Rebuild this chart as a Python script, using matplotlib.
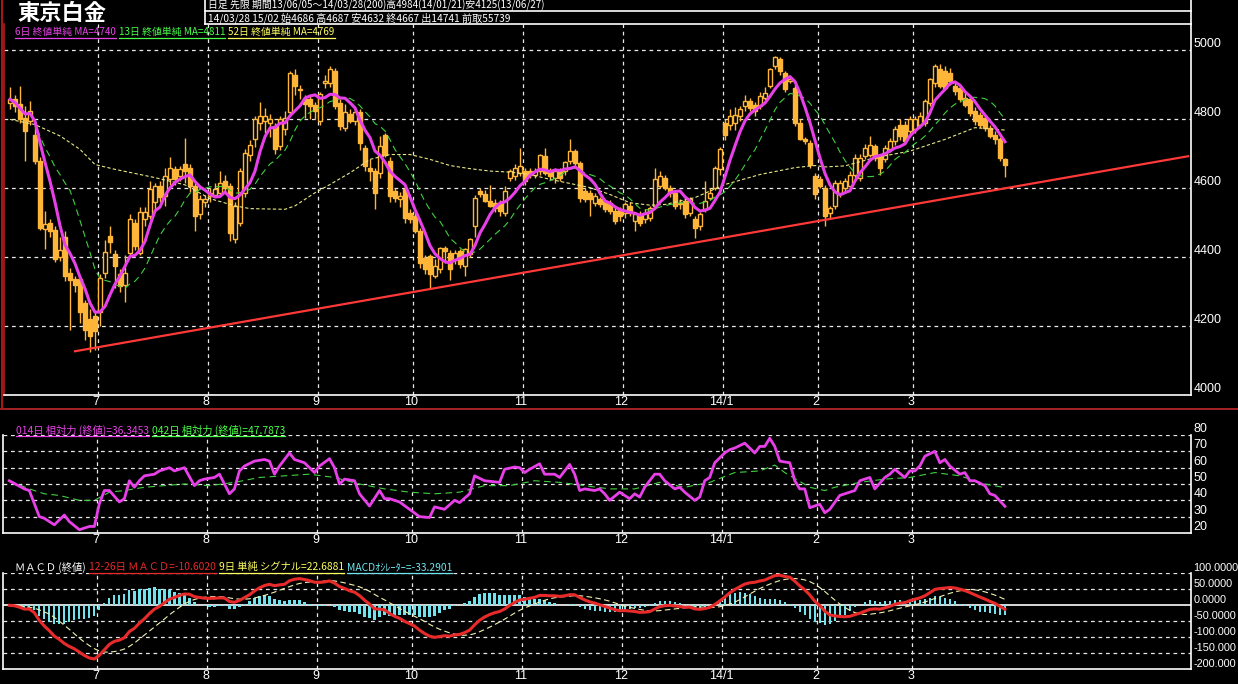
import numpy as np
import pandas as pd
import matplotlib
matplotlib.use("Agg")
import matplotlib.pyplot as plt
from matplotlib.lines import Line2D

plt.rcParams['font.family'] = ['Noto Sans CJK JP', 'DejaVu Sans']

# ---- data ----
opens = [4848, 4858, 4845, 4805, 4795, 4756, 4679, 4481, 4500, 4480,
         4400, 4460, 4355, 4336, 4336, 4268, 4220, 4230, 4240, 4355,
         4462, 4408, 4350, 4320, 4413, 4500, 4413, 4510, 4520, 4560,
         4607, 4578, 4626, 4655, 4636, 4670, 4660, 4607, 4525, 4560,
         4578, 4580, 4587, 4620, 4607, 4452, 4500, 4587, 4698, 4742,
         4790, 4795, 4790, 4780, 4723, 4771, 4820, 4930, 4885, 4860,
         4858, 4843, 4795, 4905, 4906, 4940, 4848, 4775, 4815, 4795,
         4820, 4718, 4660, 4650, 4645, 4756, 4680, 4592, 4568, 4597,
         4529, 4520, 4476, 4399, 4403, 4345, 4365, 4428, 4413, 4393,
         4418, 4375, 4408, 4490, 4592, 4582, 4563, 4558, 4553, 4529,
         4631, 4636, 4645, 4650, 4650, 4640, 4650, 4694, 4650, 4631,
         4650, 4650, 4680, 4708, 4674, 4592, 4587, 4558, 4568, 4563,
         4558, 4534, 4539, 4529, 4549, 4505, 4520, 4510, 4515, 4549,
         4607, 4631, 4600, 4587, 4558, 4563, 4529, 4510, 4491, 4539,
         4573, 4602, 4655, 4790, 4785, 4790, 4810, 4839, 4853, 4843,
         4839, 4863, 4897, 4955, 4975, 4935, 4911, 4892, 4790, 4742,
         4732, 4636, 4626, 4602, 4529, 4549, 4587, 4602, 4607, 4640,
         4630, 4694, 4698, 4723, 4694, 4684, 4713, 4737, 4785, 4785,
         4766, 4771, 4785, 4790, 4848, 4906, 4945, 4940, 4935, 4897,
         4892, 4863, 4858, 4824, 4814, 4805, 4776, 4756, 4742, 4686]
highs = [4895, 4870, 4896, 4840, 4853, 4790, 4690, 4535, 4510, 4490,
         4460, 4475, 4370, 4345, 4345, 4275, 4250, 4240, 4350, 4450,
         4490, 4420, 4365, 4405, 4525, 4510, 4545, 4545, 4620, 4616,
         4620, 4660, 4690, 4665, 4665, 4747, 4670, 4615, 4580, 4580,
         4600, 4615, 4650, 4640, 4615, 4560, 4660, 4715, 4740, 4810,
         4850, 4833, 4815, 4790, 4810, 4825, 4940, 4945, 4900, 4870,
         4870, 4850, 4880, 4930, 4955, 4948, 4860, 4845, 4830, 4830,
         4830, 4725, 4685, 4660, 4752, 4760, 4690, 4600, 4590, 4605,
         4540, 4530, 4485, 4405, 4410, 4395, 4430, 4433, 4420, 4420,
         4425, 4428, 4455, 4580, 4600, 4595, 4611, 4570, 4565, 4606,
         4655, 4670, 4718, 4660, 4660, 4660, 4700, 4718, 4660, 4660,
         4660, 4680, 4742, 4715, 4680, 4600, 4595, 4585, 4575, 4570,
         4565, 4545, 4545, 4560, 4560, 4530, 4535, 4540, 4550, 4660,
         4650, 4640, 4610, 4595, 4570, 4575, 4575, 4520, 4530, 4621,
         4600, 4665, 4720, 4800, 4830, 4835, 4840, 4870, 4862, 4850,
         4880, 4895, 4950, 4984, 4980, 4940, 4925, 4900, 4800, 4750,
         4740, 4645, 4635, 4610, 4550, 4625, 4625, 4630, 4650, 4700,
         4700, 4730, 4752, 4730, 4700, 4725, 4745, 4780, 4800, 4795,
         4810, 4810, 4820, 4860, 4920, 4960, 4960, 4955, 4950, 4905,
         4900, 4880, 4865, 4835, 4820, 4812, 4785, 4765, 4750, 4687]
lows = [4830, 4820, 4790, 4680, 4785, 4670, 4480, 4425, 4460, 4385,
        4390, 4330, 4190, 4300, 4210, 4160, 4125, 4130, 4200, 4340,
        4413, 4310, 4300, 4270, 4400, 4420, 4405, 4490, 4510, 4540,
        4560, 4550, 4610, 4610, 4620, 4615, 4590, 4475, 4510, 4545,
        4560, 4575, 4580, 4590, 4447, 4440, 4490, 4575, 4680, 4720,
        4770, 4760, 4750, 4700, 4710, 4755, 4810, 4870, 4860, 4805,
        4800, 4800, 4785, 4890, 4895, 4830, 4770, 4765, 4790, 4785,
        4710, 4650, 4620, 4540, 4630, 4690, 4560, 4560, 4545, 4500,
        4500, 4470, 4370, 4350, 4307, 4340, 4355, 4384, 4335, 4380,
        4370, 4345, 4400, 4460, 4575, 4560, 4545, 4530, 4520, 4520,
        4620, 4625, 4635, 4610, 4630, 4630, 4640, 4640, 4625, 4615,
        4620, 4640, 4670, 4665, 4560, 4560, 4520, 4550, 4545, 4530,
        4525, 4495, 4505, 4515, 4520, 4475, 4490, 4500, 4505, 4540,
        4600, 4595, 4575, 4540, 4540, 4515, 4520, 4457, 4480, 4530,
        4565, 4595, 4640, 4740, 4770, 4770, 4795, 4825, 4825, 4810,
        4830, 4855, 4890, 4945, 4930, 4880, 4905, 4780, 4740, 4730,
        4660, 4570, 4600, 4490, 4515, 4540, 4575, 4590, 4595, 4630,
        4620, 4685, 4690, 4680, 4640, 4675, 4705, 4725, 4740, 4730,
        4750, 4760, 4775, 4780, 4840, 4895, 4890, 4885, 4900, 4870,
        4850, 4835, 4810, 4785, 4775, 4765, 4745, 4730, 4680, 4632]
closes = [4858, 4840, 4800, 4765, 4824, 4680, 4486, 4495, 4475, 4395,
          4420, 4345, 4335, 4320, 4240, 4190, 4172, 4185, 4340, 4415,
          4443, 4375, 4316, 4355, 4510, 4433, 4530, 4530, 4597, 4607,
          4575, 4636, 4660, 4626, 4655, 4650, 4607, 4520, 4568, 4568,
          4587, 4597, 4616, 4600, 4471, 4548, 4650, 4703, 4727, 4800,
          4810, 4810, 4800, 4713, 4800, 4805, 4935, 4897, 4887, 4845,
          4839, 4824, 4874, 4910, 4945, 4840, 4780, 4820, 4795, 4820,
          4732, 4665, 4650, 4587, 4722, 4698, 4577, 4573, 4578, 4515,
          4510, 4476, 4384, 4365, 4350, 4375, 4428, 4418, 4365, 4413,
          4380, 4423, 4452, 4572, 4582, 4563, 4549, 4544, 4534, 4592,
          4650, 4660, 4665, 4621, 4640, 4650, 4698, 4645, 4636, 4650,
          4631, 4675, 4708, 4674, 4573, 4568, 4568, 4578, 4553, 4539,
          4534, 4505, 4520, 4553, 4529, 4524, 4500, 4529, 4544, 4626,
          4636, 4602, 4587, 4549, 4553, 4524, 4568, 4486, 4524, 4563,
          4587, 4660, 4713, 4756, 4810, 4814, 4829, 4853, 4834, 4824,
          4868, 4877, 4945, 4980, 4940, 4887, 4916, 4790, 4742, 4737,
          4669, 4582, 4607, 4520, 4544, 4616, 4616, 4621, 4640, 4689,
          4689, 4718, 4727, 4689, 4660, 4718, 4737, 4771, 4752, 4737,
          4800, 4800, 4810, 4853, 4916, 4955, 4897, 4892, 4911, 4882,
          4858, 4843, 4819, 4795, 4785, 4776, 4752, 4742, 4689, 4667]

ma52_bar = [0, 5, 10, 14, 17, 21, 26, 29, 35, 40, 45, 48, 55, 57, 61, 64, 68, 72,
            76, 80, 84, 88, 92, 96, 100, 104, 108, 112, 116, 120, 124, 128, 131,
            137, 143, 150, 157, 161, 163, 167, 173, 180, 187, 193, 199]
ma52_val = [4800, 4785, 4752, 4713, 4669, 4655, 4640, 4631, 4610, 4570, 4549, 4541,
            4539, 4549, 4587, 4611, 4645, 4684, 4698, 4698, 4684, 4666, 4657, 4650,
            4647, 4640, 4626, 4614, 4602, 4582, 4558, 4551, 4553, 4573, 4611, 4640,
            4660, 4666, 4662, 4665, 4689, 4708, 4742, 4776, 4769]

trend_bar = [13, 235.6]
trend_val = [4127, 4693]

rsi14_bar = [0, 3, 4, 6, 7, 9, 11, 12, 14, 16, 17, 18, 19, 20, 22, 23, 24, 25, 26, 27,
             29, 30, 32, 33, 35, 37, 38, 39, 41, 42, 43, 44, 45, 46, 47, 49, 51, 52, 53,
             54, 56, 57, 59, 61, 62, 64, 65, 66, 67, 69, 70, 72, 74, 75, 76, 78, 80, 82,
             84, 85, 87, 89, 90, 92, 93, 95, 98, 99, 101, 102, 103, 104, 106, 107, 109,
             110, 112, 113, 114, 115, 117, 118, 119, 120, 122, 124, 125, 126, 127, 129,
             130, 131, 133, 134, 135, 137, 138, 139, 140, 141, 143, 144, 145, 147, 149,
             150, 151, 152, 153, 154, 156, 157, 158, 159, 160, 162, 163, 164, 166, 167,
             169, 170, 172, 173, 175, 176, 177, 179, 180, 181, 182, 183, 185, 186, 187,
             188, 190, 191, 192, 193, 195, 196, 197, 199]
rsi14_val = [52, 47, 46, 30, 29, 25, 31, 27, 22, 24, 24, 38, 46, 46, 39, 41, 52, 48, 52, 55,
             56, 58, 60, 58, 60, 49, 52, 53, 54, 56, 50, 44, 47, 58, 61, 64, 65, 64, 56,
             61, 69, 65, 63, 57, 61, 65.5, 60, 50, 53, 52, 44, 36.5, 46, 41, 41, 39, 34.5,
             30, 29.5, 36, 34.5, 40, 38.6, 44, 55, 52, 51, 59, 60.4, 60, 57, 59, 62.4, 56,
             56, 54, 62, 56, 46, 47, 46, 47, 44, 40, 45, 41, 44, 42, 48, 56, 56, 52, 47,
             48, 45, 40, 42, 52, 54, 63, 69, 71, 72, 75, 69, 73, 73, 78, 73, 64, 63, 52,
             47, 47, 35.5, 37.6, 32.4, 34.5, 43, 44, 46, 52, 54, 47, 54, 56, 59, 54, 58,
             58, 61, 67, 70, 63, 65, 61, 56, 57, 52, 52, 49, 44, 43, 36.35]
rsi42_bar = [0, 4, 7, 10, 14, 17, 20, 23, 27, 35, 40, 45, 50, 55, 60, 65, 70, 75, 80, 85,
             90, 95, 100, 105, 110, 115, 120, 125, 130, 135, 140, 145, 150, 153, 155,
             160, 163, 165, 170, 175, 180, 185, 190, 195, 199]
rsi42_val = [52, 47, 44, 43, 40, 40, 45, 46, 48, 50, 49, 51, 54, 55, 56, 54, 50, 47, 45,
             44, 45, 49, 49, 52, 51, 49, 47, 47, 51, 48, 51, 57, 58, 61.6, 57, 48, 46, 48,
             51, 53, 54, 57, 55, 50, 47.79]

month_bar = [18, 40, 62, 81, 103, 123, 143, 162, 181]
month_lbl = ["7", "8", "9", "10", "11", "12", "14/1", "2", "3"]

price_ticks = [4000, 4200, 4400, 4600, 4800, 5000]
rsi_ticks = [20, 30, 40, 50, 60, 70, 80]
macd_ticks = [100, 50, 0, -50, -100, -150, -200]
macd_lbls = ["100.0000", "50.0000", "0.0000", "-50.0000", "-100.000", "-150.000", "-200.000"]

# ---- derived indicators ----
cl = pd.Series(closes, dtype=float)
ma6 = cl.rolling(6, min_periods=1).mean()
ma13 = cl.rolling(13, min_periods=1).mean()
macd = cl.ewm(span=12, adjust=False).mean() - cl.ewm(span=26, adjust=False).mean()
signal = macd.rolling(9, min_periods=1).mean()
osc = macd - signal

# ---- style ----
W, H = 1238, 684
ORANGE = "#FFB638"
MAG = "#E840E8"
GRN = "#40D040"
YEL = "#E8E888"
RED = "#E82A2A"
CYAN = "#70E4EE"
GRID = dict(color="#E8E8E8", lw=0.9, ls=(0, (3, 3)))
NUM_FONT = ['Liberation Sans Narrow', 'Liberation Sans', 'DejaVu Sans']
XLIM = (-1.2, 236.2)

fig = plt.figure(figsize=(W / 100, H / 100), dpi=100, facecolor="black")


def px_axes(x0, y0, x1, y1):
    ax = fig.add_axes([x0 / W, 1 - y1 / H, (x1 - x0) / W, (y1 - y0) / H])
    ax.set_facecolor("black")
    ax.set_xticks([]); ax.set_yticks([])
    ax.set_xlim(*XLIM)
    for s in ax.spines.values():
        s.set_color("white"); s.set_linewidth(1.2)
    ax.spines["top"].set_visible(False)
    return ax


def fig_line(x0, y0, x1, y1, color="white", lw=1.2):
    fig.add_artist(Line2D([x0 / W, x1 / W], [1 - y0 / H, 1 - y1 / H], color=color, lw=lw))


def right_labels(ax, vals, lbls, size=9):
    for v, s in zip(vals, lbls):
        ax.text(1.002, v, s, transform=ax.get_yaxis_transform(), color="white",
                fontsize=size, family=NUM_FONT, va="bottom", ha="left", clip_on=False)


def month_labels(ax, y):
    for b, s in zip(month_bar, month_lbl):
        fig.text((10 + 5 * b - 4) / W, 1 - y / H, s, color="white", fontsize=9,
                 family=NUM_FONT, ha="center", va="center")


def vgrid(ax):
    for b in month_bar:
        ax.axvline(b - 0.5, zorder=1, **GRID)


# ---- main price panel ----
ax = px_axes(4, 24.3, 1191, 395)
ax.set_ylim(4000, 5076)
ax.spines["left"].set_color("#B02020")
for v in price_ticks[1:]:
    ax.axhline(v, zorder=1, **GRID)
vgrid(ax)

x = np.arange(len(closes))
o = np.array(opens, float); c = np.array(closes, float)
h = np.array(highs, float); l = np.array(lows, float)
ax.vlines(x, l, h, color=ORANGE, lw=1, zorder=2)
body = np.where(np.abs(c - o) < 4, 4, c - o)
up = c >= o
ax.bar(x[up], body[up], bottom=o[up], width=0.72, facecolor="black",
       edgecolor=ORANGE, lw=1, zorder=3)
ax.bar(x[~up], body[~up], bottom=o[~up], width=0.72, facecolor=ORANGE,
       edgecolor=ORANGE, lw=1, zorder=3)

ax.plot(ma52_bar, ma52_val, color=YEL, lw=0.8, ls=(0, (3, 2)), zorder=4)
ax.plot(x, ma13, color=GRN, lw=0.8, ls=(0, (6, 4)), zorder=4)
ax.plot(x, ma6, color=MAG, lw=2.2, zorder=5)
ax.plot(trend_bar, trend_val, color="#FF3838", lw=1.6, zorder=6)
right_labels(ax, price_ticks, [str(v) for v in price_ticks])
month_labels(ax, 402)

# ---- RSI panel ----
ar = px_axes(3.3, 435, 1191, 533)
ar.set_ylim(20, 80)
for v in rsi_ticks[1:]:
    ar.axhline(v, zorder=1, **GRID)
vgrid(ar)
ar.plot(rsi42_bar, rsi42_val, color=GRN, lw=0.8, ls=(0, (6, 4)), zorder=3)
ar.plot(rsi14_bar, rsi14_val, color=MAG, lw=2.0, zorder=4)
right_labels(ar, rsi_ticks, [str(v) for v in rsi_ticks])
month_labels(ar, 540)

# ---- MACD panel ----
am = px_axes(3.3, 573.3, 1191, 669.3)
am.set_ylim(-200, 100)
for v in [100, 50, -50, -100, -150]:
    am.axhline(v, zorder=1, **GRID)
am.axhline(0, color="white", lw=1.2, zorder=2)
vgrid(am)
am.bar(x, osc, width=0.45, color=CYAN, zorder=3)
am.plot(x, signal, color="#F2F2B0", lw=0.8, ls=(0, (5, 3)), zorder=4)
am.plot(x, macd, color=RED, lw=2.2, zorder=5)
right_labels(am, macd_ticks, macd_lbls, size=7.8)
month_labels(am, 676)

# ---- frame lines / header ----
fig_line(0, 409, W, 409, color="#C02828", lw=1.2)
fig_line(1.5, 0, 1.5, 409, color="#A01818", lw=1.5)
fig_line(1191, 0, 1191, 24.3)
fig_line(205, 11.3, 1191, 11.3)
fig_line(205, 24.3, 1191, 24.3)
fig_line(205, 0, 205, 24.3)

fig.text(17 / W, 1 - 13 / H, "東京白金", color="white", fontsize=16, weight="bold",
         va="center", ha="left")
fig.text(208 / W, 1 - 5.5 / H, "日足 先限 期間13/06/05～14/03/28(200)高4984(14/01/21)安4125(13/06/27)",
         color="white", fontsize=7.1, va="center", ha="left")
fig.text(208 / W, 1 - 18 / H, "14/03/28 15/02 始4686 高4687 安4632 終4667 出14741 前取55739",
         color="white", fontsize=7.3, va="center", ha="left")

renderer = fig.canvas.get_renderer()


def legend_row(y, x0, parts, size=7.2):
    xx = x0
    for txt, col, uline in parts:
        t = fig.text(xx / W, 1 - y / H, txt, color=col, fontsize=size, va="center", ha="left")
        bb = t.get_window_extent(renderer=renderer)
        if uline:
            fig.add_artist(Line2D([bb.x0 / W, bb.x1 / W], [(bb.y0 - 0.5) / H] * 2,
                                  color=col, lw=0.9))
        xx = bb.x1 + 3


legend_row(32, 15, [("6日 終値単純 MA=4740", MAG, True),
                    ("13日 終値単純 MA=4811", "#48FF48", True),
                    ("52日 終値単純 MA=4769", "#FFFF60", True)], size=7.1)
legend_row(430, 16, [("014日 相対力 (終値)=36.3453", MAG, True),
                     ("042日 相対力 (終値)=47.7873", "#48FF48", True)], size=7.4)
legend_row(567, 15, [("ＭＡＣＤ (終値)", "white", False),
                     ("12-26日 ＭＡＣＤ=-10.6020", RED, True),
                     ("9日 単純 シグナル=22.6881", "#FFFF60", True),
                     ("MACDｵｼﾚｰﾀｰ=-33.2901", CYAN, True)], size=7.4)

fig.savefig("out.png", dpi=100, facecolor="black")
